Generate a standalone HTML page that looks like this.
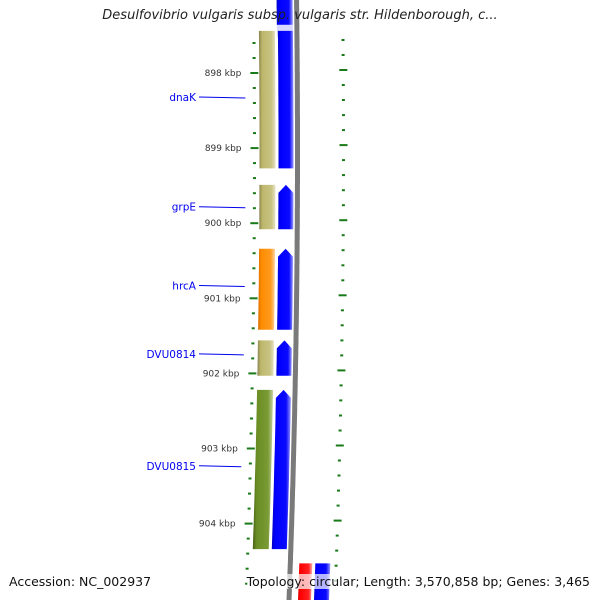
<!DOCTYPE html>
<html><head><meta charset="utf-8"><style>
html,body{margin:0;padding:0;background:#fff;}
#wrap{position:relative;width:600px;height:600px;overflow:hidden;font-family:"DejaVu Sans","Liberation Sans",sans-serif;}
.t{position:absolute;white-space:nowrap;}
</style></head><body>
<div id="wrap">
<svg id="svg" width="600" height="600" xmlns="http://www.w3.org/2000/svg" style="position:absolute;left:0;top:0">
<defs>
<linearGradient id="gKhaki" x1="0" x2="1"><stop offset="0" stop-color="#8a8450"/><stop offset="0.2" stop-color="#bdb76b"/><stop offset="0.75" stop-color="#c9c384"/><stop offset="1" stop-color="#e6e2c4"/></linearGradient>
<linearGradient id="gOrange" x1="0" x2="1"><stop offset="0" stop-color="#d97000"/><stop offset="0.2" stop-color="#ff8c00"/><stop offset="0.75" stop-color="#ff9a20"/><stop offset="1" stop-color="#ffd9a8"/></linearGradient>
<linearGradient id="gOlive" x1="0" x2="1"><stop offset="0" stop-color="#4a6318"/><stop offset="0.2" stop-color="#6b8e23"/><stop offset="0.75" stop-color="#7a9a35"/><stop offset="1" stop-color="#c7d4a8"/></linearGradient>
<linearGradient id="gBlue" x1="0" x2="1"><stop offset="0" stop-color="#0000c8"/><stop offset="0.2" stop-color="#0000ff"/><stop offset="0.75" stop-color="#0a0aff"/><stop offset="1" stop-color="#9a9aff"/></linearGradient>
<linearGradient id="gRed" x1="0" x2="1"><stop offset="0" stop-color="#e00000"/><stop offset="0.2" stop-color="#ff0000"/><stop offset="0.75" stop-color="#ff2020"/><stop offset="1" stop-color="#ffb0b0"/></linearGradient>
<linearGradient id="gGray" x1="0" x2="1"><stop offset="0" stop-color="#555"/><stop offset="0.5" stop-color="#999"/><stop offset="1" stop-color="#666"/></linearGradient>
</defs>
</svg>
<div class="t" style="left:0;width:600px;top:8px;text-align:center;font-size:13px;font-style:italic;color:#222;">Desulfovibrio vulgaris subsp. vulgaris str. Hildenborough, c...</div>
<div class="t" style="left:9px;top:574px;font-size:12.5px;color:#111;background:rgba(255,255,255,0.7);">Accession: NC_002937</div>
<div class="t" style="right:10px;top:574px;font-size:12.5px;color:#111;background:rgba(255,255,255,0.7);">Topology: circular; Length: 3,570,858 bp; Genes: 3,465</div>
</div>
<script>
// data (kbp)
const geneNames = ["dnaK","grpE","hrcA","DVU0814","DVU0815"];
const geneStarts = [897.44, 899.49, 900.34, 901.56, 902.22];
const geneEnds = [899.27, 900.08, 901.42, 902.03, 904.34];
const geneCats = ["khaki","khaki","orange","khaki","olive"];
const labelKbp = [898.32, 899.78, 900.83, 901.74, 903.23];
const tickKbp = [898, 899, 900, 901, 902, 903, 904];
const tickLabels = ["898 kbp","899 kbp","900 kbp","901 kbp","902 kbp","903 kbp","904 kbp"];
const revStarts = [904.53];
const revEnds = [905.2];
const fwdPrevEnd = [897.36];

const svg = document.getElementById('svg');
const NS = 'http://www.w3.org/2000/svg';
function yOf(k){ return 73 + (k-898)*75.1; }
function kOf(y){ return 898 + (y-73)/75.1; }
function bx(y){ return 297.5 - 4.2e-5*(y-150)*(y-150); }
function mk(tag, attrs){ const e=document.createElementNS(NS,tag); for(const a in attrs) e.setAttribute(a,attrs[a]); svg.appendChild(e); return e; }
function band(y0,y1,o0,o1,fill,arrow){
  const pts=[]; const n=12;
  const ya = arrow ? y0+8 : y0;
  for(let i=0;i<=n;i++){const y=ya+(y1-ya)*i/n; pts.push([bx(y)+o0,y]);}
  for(let i=n;i>=0;i--){const y=ya+(y1-ya)*i/n; pts.push([bx(y)+o1,y]);}
  if(arrow){ pts.push([bx(y0)+(o0+o1)/2,y0]); }
  return mk('polygon',{points:pts.map(p=>p[0].toFixed(1)+','+p[1].toFixed(1)).join(' '),fill:fill});
}
const catFill = {khaki:'url(#gKhaki)',orange:'url(#gOrange)',olive:'url(#gOlive)'};

// backbone
let d='';
for(let y=-2;y<=602;y+=4){ d+=(y===-2?'M':'L')+(bx(y)).toFixed(1)+','+y; }
let bb=mk('path',{d:d,stroke:'#7a7a7a','stroke-width':5,fill:'none'});



// minor/major ticks inner and outer
for(let k=897.4;k<=905.2;k+=0.2){
  const kr=Math.round(k*10)/10; const y=yOf(kr);
  if(y<28||y>592) continue;
  const major=Math.abs(kr-Math.round(kr))<0.01;
  const w=major?8:3;
  let t1=mk('rect',{x:(bx(y)-43-w/2).toFixed(1),y:(y-1).toFixed(1),width:w,height:2,fill:'#1a7a1a'});
  
  
  let t2=mk('rect',{x:(bx(y)+46-w/2).toFixed(1),y:(y-1-3).toFixed(1),width:w,height:2,fill:'#1a7a1a'});
  
  
}
tickKbp.forEach((k,i)=>{
  const y=yOf(k);
  const t=mk('text',{x:(bx(y)-56).toFixed(1),y:(y+3).toFixed(1),'font-size':'9','text-anchor':'end',fill:'#333','font-family':'DejaVu Sans, Liberation Sans, sans-serif'});
  t.textContent=tickLabels[i];
  
  
});

// previous forward gene at top
let pg=band(-5,yOf(fwdPrevEnd[0]),-20,-4,'url(#gBlue)',false);


let pgf=band(yOf(fwdPrevEnd[0]),yOf(geneStarts[0])+6,-20,-4,'#d8d8ff',false);



geneNames.forEach((name,i)=>{
  const y0=yOf(geneStarts[i]), y1=yOf(geneEnds[i]);
  const c=band(y0,y1,-38,-22,catFill[geneCats[i]],false);
  
  
  const b=band(y0,y1,-19,-4,'url(#gBlue)',i>0);
  
  
  const ly=yOf(labelKbp[i]);
  const ln=mk('line',{x1:199,y1:ly.toFixed(1),x2:(bx(ly)-52).toFixed(1),y2:(ly+1).toFixed(1),stroke:'#0000ee','stroke-width':1});
  
  
  const tx=mk('text',{x:196,y:(ly+4).toFixed(1),'font-size':'10.5','text-anchor':'end',fill:'#0000ee','font-family':'DejaVu Sans, Liberation Sans, sans-serif'});
  tx.textContent=name;
  
  
});

// reverse-strand gene at bottom
revStarts.forEach((s,i)=>{
  const y0=yOf(s), y1=yOf(revEnds[i]);
  const r=band(y0,y1,9,22,'url(#gRed)',false);
  
  
  const b=band(y0,y1,25,40,'url(#gBlue)',false);
  
  
});
</script>
</body></html>
